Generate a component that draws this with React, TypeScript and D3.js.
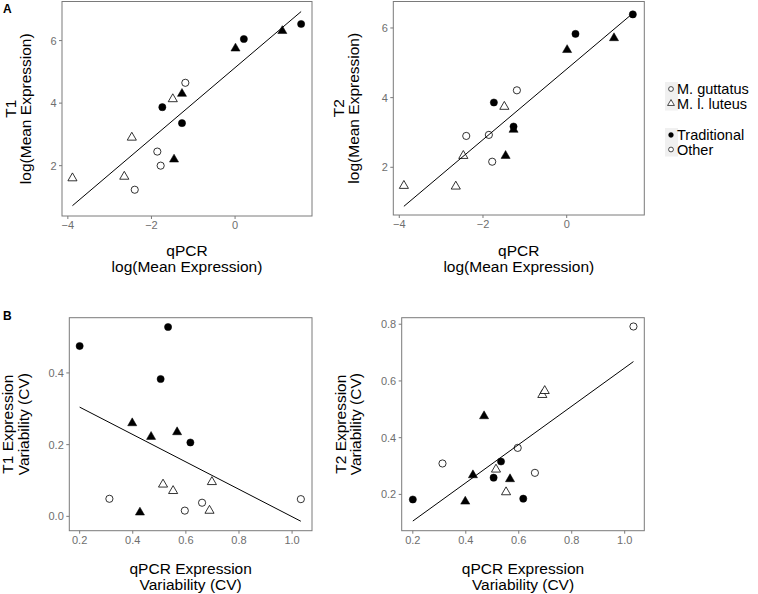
import React from 'react';
import * as d3 from 'd3';

const FONT = '"Liberation Sans", Arial, Helvetica, sans-serif';

// ---- Panel A data: log(mean expression) ----
const qpcrLogMean = [-3.89, -2.65, -2.47, -2.40, -1.86, -1.78, -1.74, -1.49, -1.46, -1.27, -1.27, -1.19, 0.01, 0.21, 1.13, 1.58];
const t1LogMean = [1.60, 1.65, 2.90, 1.23, 2.45, 2.00, 3.87, 4.13, 2.20, 4.30, 3.36, 4.65, 5.75, 6.05, 6.31, 6.53];
const t2LogMean = [1.47, 1.45, 2.33, 2.90, 2.93, 2.16, 3.86, 3.74, 2.33, 3.08, 3.17, 4.21, 5.37, 5.83, 5.71, 6.39];
const meanSpecies = ['L', 'L', 'L', 'G', 'G', 'G', 'G', 'L', 'L', 'L', 'G', 'G', 'L', 'G', 'L', 'G'];
const meanTraditional = [0, 0, 0, 0, 0, 0, 1, 0, 1, 1, 1, 0, 1, 1, 1, 1];
// fitted line: [intercept, slope]
const fitT1Mean = [5.135, 1.135];
const fitT2Mean = [4.82, 1.013];

// ---- Panel B data: expression variability (CV) ----
const qpcrCV = [0.200, 0.312, 0.398, 0.427, 0.469, 0.505, 0.514, 0.533, 0.552, 0.567, 0.596, 0.617, 0.661, 0.689, 0.698, 1.033];
const t1CV = [0.475, 0.049, 0.260, 0.011, 0.222, 0.383, 0.089, 0.528, 0.071, 0.235, 0.016, 0.206, 0.038, 0.016, 0.096, 0.048];
const t2CV = [0.182, 0.309, 0.175, 0.268, 0.476, 0.259, 0.288, 0.316, 0.208, 0.254, 0.364, 0.185, 0.276, 0.551, 0.565, 0.792];
const cvSpecies = ['G', 'G', 'L', 'L', 'L', 'G', 'L', 'G', 'L', 'L', 'G', 'G', 'G', 'L', 'L', 'G'];
const cvTraditional = [1, 0, 1, 1, 1, 1, 0, 1, 0, 1, 0, 1, 0, 0, 0, 0];
const fitT1CV = [0.381, -0.382];
const fitT2CV = [-0.029, 0.675];

// ---- ticks ----
const meanXTicks = [-4, -2, 0];
const meanYTicks = [2, 4, 6];
const cvXTicks = [0.2, 0.4, 0.6, 0.8, 1.0];
const cvT1YTicks = [0.0, 0.2, 0.4];
const cvT2YTicks = [0.2, 0.4, 0.6, 0.8];

// ---- legend ----
const speciesLabels = ['M. guttatus', 'M. l. luteus'];
const typeLabels = ['Traditional', 'Other'];

const fmtInt = (v: number) => (v < 0 ? '\u2212' + Math.abs(v) : String(v));
const fmt1 = d3.format('.1f');

const GRAY = '#7a7a7a';
const TICKGRAY = '#6e6e6e';
const triPath = d3.symbol().type(d3.symbolTriangle).size(36)()!;
const triSmall = d3.symbol().type(d3.symbolTriangle).size(20)()!;

type Panel = {
  x: number[]; y: number[]; species: string[]; trad: number[]; fit: number[];
  xDomain: number[]; yDomain: number[]; box: number[];
  xTicks: number[]; yTicks: number[]; fmt: (v: number) => string;
  xTitle: string[]; xTitleY: number[]; yTitle: string[]; yTitleX: number[];
};

const panels: Panel[] = [
  {
    x: qpcrLogMean, y: t1LogMean, species: meanSpecies, trad: meanTraditional, fit: fitT1Mean,
    xDomain: [-4.14, 1.84], yDomain: [0.39, 7.25], box: [62, 1.5, 312, 216],
    xTicks: meanXTicks, yTicks: meanYTicks, fmt: fmtInt,
    xTitle: ['qPCR', 'log(Mean Expression)'], xTitleY: [256.3, 272.3],
    yTitle: ['T1', 'log(Mean Expression)'], yTitleX: [15.5, 30.5],
  },
  {
    x: qpcrLogMean, y: t2LogMean, species: meanSpecies, trad: meanTraditional, fit: fitT2Mean,
    xDomain: [-4.143, 1.854], yDomain: [0.63, 6.76], box: [393.3, 1.5, 644.3, 215],
    xTicks: meanXTicks, yTicks: meanYTicks, fmt: fmtInt,
    xTitle: ['qPCR', 'log(Mean Expression)'], xTitleY: [256.3, 272.3],
    yTitle: ['T2', 'log(Mean Expression)'], yTitleX: [343.5, 358.5],
  },
  {
    x: qpcrCV, y: t1CV, species: cvSpecies, trad: cvTraditional, fit: fitT1CV,
    xDomain: [0.161, 1.075], yDomain: [-0.040, 0.554], box: [69.3, 317.7, 312, 530.7],
    xTicks: cvXTicks, yTicks: cvT1YTicks, fmt: fmt1,
    xTitle: ['qPCR Expression', 'Variability (CV)'], xTitleY: [574, 589.5],
    yTitle: ['T1 Expression', 'Variability (CV)'], yTitleX: [13, 28.5],
  },
  {
    x: qpcrCV, y: t2CV, species: cvSpecies, trad: cvTraditional, fit: fitT2CV,
    xDomain: [0.158, 1.074], yDomain: [0.072, 0.823], box: [401.7, 317.7, 644.3, 530.7],
    xTicks: cvXTicks, yTicks: cvT2YTicks, fmt: fmt1,
    xTitle: ['qPCR Expression', 'Variability (CV)'], xTitleY: [574, 589.5],
    yTitle: ['T2 Expression', 'Variability (CV)'], yTitleX: [346, 361],
  },
];

function PanelView({ p }: { p: Panel }) {
  const [x0, y0, x1, y1] = p.box;
  const xs = d3.scaleLinear().domain(p.xDomain).range([x0, x1]);
  const ys = d3.scaleLinear().domain(p.yDomain).range([y1, y0]);
  const xmin = d3.min(p.x)!;
  const xmax = d3.max(p.x)!;
  const fitLine = d3.line<number>().x((v) => xs(v)).y((v) => ys(p.fit[0] + p.fit[1] * v));
  const cx = (x0 + x1) / 2;
  const cy = (y0 + y1) / 2;
  return (
    <g>
      <rect x={x0} y={y0} width={x1 - x0} height={y1 - y0} fill="white" stroke={GRAY} strokeWidth={1} />
      {p.xTicks.map((t) => (
        <g key={'x' + t}>
          <line x1={xs(t)} x2={xs(t)} y1={y1} y2={y1 + 3} stroke={GRAY} strokeWidth={1} />
          <text x={xs(t)} y={y1 + 13} textAnchor="middle" fontSize={11} fill={TICKGRAY} fontFamily={FONT}>{p.fmt(t)}</text>
        </g>
      ))}
      {p.yTicks.map((t) => (
        <g key={'y' + t}>
          <line x1={x0 - 3} x2={x0} y1={ys(t)} y2={ys(t)} stroke={GRAY} strokeWidth={1} />
          <text x={x0 - 5.5} y={ys(t)} dy="0.36em" textAnchor="end" fontSize={11} fill={TICKGRAY} fontFamily={FONT}>{p.fmt(t)}</text>
        </g>
      ))}
      {p.x.map((xv, i) => {
        const filled = p.trad[i] === 1;
        const px = xs(xv);
        const py = ys(p.y[i]);
        if (p.species[i] === 'G') {
          return <circle key={i} cx={px} cy={py} r={3.6} fill={filled ? 'black' : 'white'} stroke="black" strokeWidth={filled ? 0.5 : 0.8} />;
        }
        return <path key={i} d={triPath} transform={`translate(${px},${py})`} fill={filled ? 'black' : 'white'} stroke="black" strokeWidth={filled ? 0.5 : 0.8} />;
      })}
      <path d={fitLine([xmin, xmax]) || ''} fill="none" stroke="black" strokeWidth={1} />
      {p.xTitle.map((t, i) => (
        <text key={'xt' + i} x={cx} y={p.xTitleY[i]} textAnchor="middle" fontSize={15.5} fill="black" fontFamily={FONT}>{t}</text>
      ))}
      {p.yTitle.map((t, i) => (
        <text key={'yt' + i} transform={`translate(${p.yTitleX[i]},${cy}) rotate(-90)`} textAnchor="middle" fontSize={15.5} fill="black" fontFamily={FONT}>{t}</text>
      ))}
    </g>
  );
}

function Legend() {
  const kx = 671;
  const rows1 = [89, 103.5];
  const rows2 = [135, 149.5];
  return (
    <g fontFamily={FONT} fontSize={14.5}>
      <rect x={665} y={rows1[0] - 7} width={13} height={28.5} fill="#f0f0f0" />
      <rect x={665} y={rows2[0] - 7} width={13} height={28.5} fill="#f0f0f0" />
      <circle cx={kx} cy={rows1[0]} r={2.4} fill="white" stroke="black" strokeWidth={0.7} />
      <path d={triSmall} transform={`translate(${kx},${rows1[1]})`} fill="white" stroke="black" strokeWidth={0.7} />
      <circle cx={kx} cy={rows2[0]} r={2.4} fill="black" stroke="black" strokeWidth={0.5} />
      <circle cx={kx} cy={rows2[1]} r={2.4} fill="white" stroke="black" strokeWidth={0.7} />
      {speciesLabels.map((t, i) => (
        <text key={t} x={677} y={rows1[i] + 5.2} fill="black">{t}</text>
      ))}
      {typeLabels.map((t, i) => (
        <text key={t} x={677} y={rows2[i] + 5.2} fill="black">{t}</text>
      ))}
    </g>
  );
}

export default function App() {
  return (
    <svg width={758} height={594} style={{ position: 'absolute', left: 0, top: 0, background: 'white' }}>
      <rect x={0} y={0} width={758} height={594} fill="white" />
      {panels.map((p, i) => <PanelView key={i} p={p} />)}
      <Legend />
      <text x={3} y={13.3} fontSize={12} fontWeight="bold" fontFamily={FONT}>A</text>
      <text x={3} y={320} fontSize={12} fontWeight="bold" fontFamily={FONT}>B</text>
    </svg>
  );
}
